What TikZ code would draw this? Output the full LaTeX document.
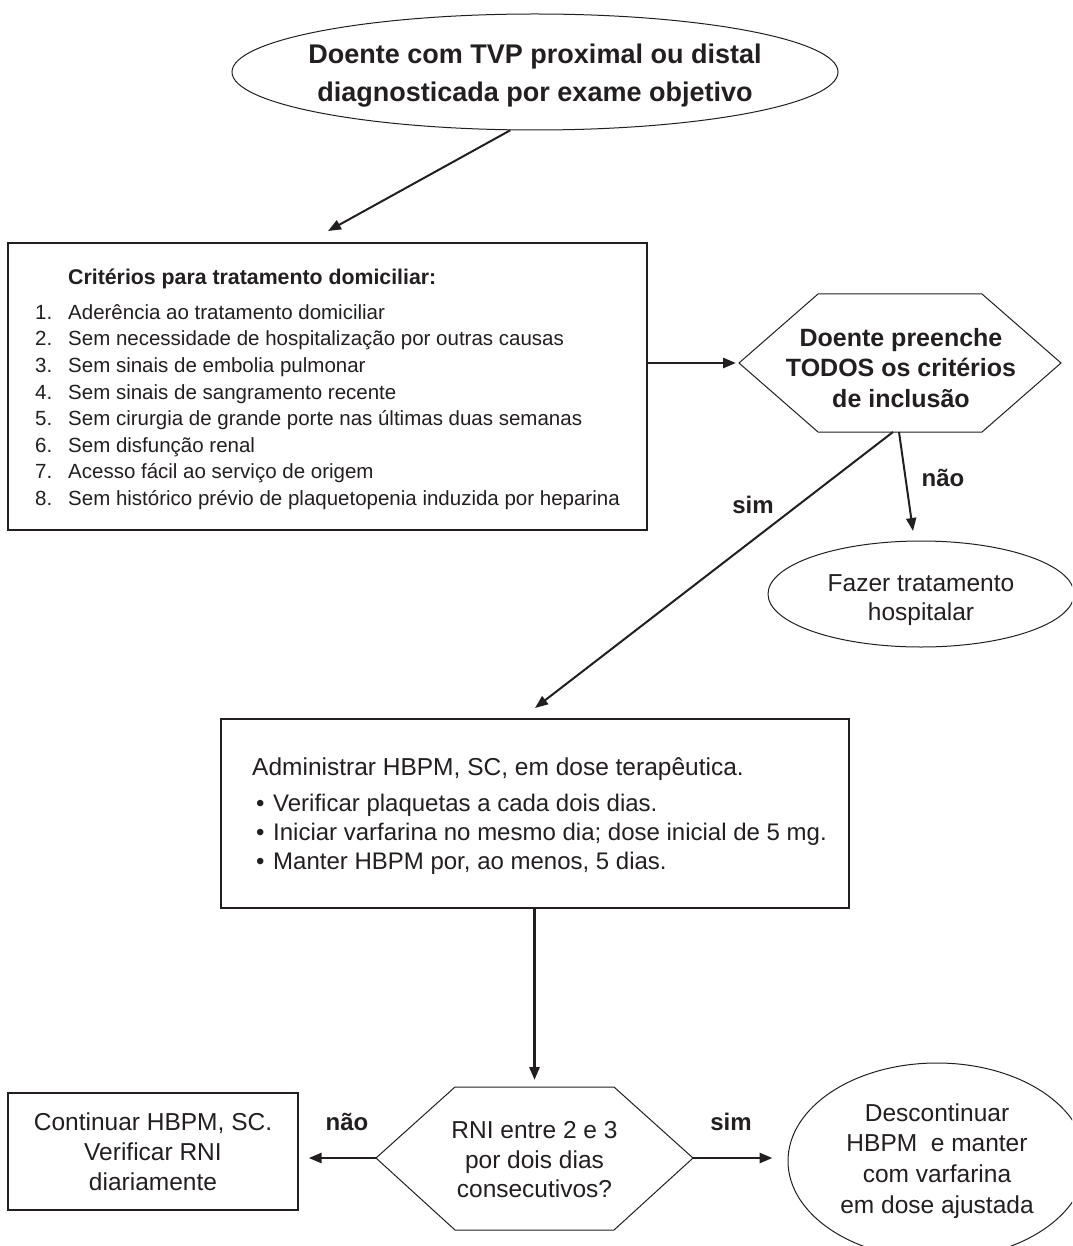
\documentclass[tikz,border=0pt]{standalone}
\usepackage{fontspec}
\setmainfont{Liberation Sans}
\usetikzlibrary{arrows.meta,shapes.geometric,calc}
\definecolor{ink}{RGB}{35,31,32}
\begin{document}
\begin{tikzpicture}[x=1pt,y=-1pt,
  txt/.style={text=ink, inner sep=0pt},
  fbold/.style={font=\fontsize{24}{30.5}\selectfont\bfseries},
  fcrit/.style={font=\fontsize{20.5}{26.6}\selectfont},
  bord/.style={draw=ink, line width=1.3pt},
  thin/.style={draw=ink, line width=1pt},
  arr/.style={-{Triangle[length=13pt,width=10pt]}, line width=2pt, draw=ink},
  harr/.style={arr, line width=2.8pt}]
\useasboundingbox (0,0) rectangle (1072,1246);
\clip (0,0) rectangle (1072,1246);
\fill[white] (0,0) rectangle (1072,1246);

% start ellipse
\node[ellipse, thin, minimum width=606pt, minimum height=116pt, inner sep=0pt] (start) at (535,72) {};
\node[txt, align=center, font=\fontsize{27}{38}\selectfont\bfseries] (startT) at (535,76)
  {Doente com TVP proximal ou distal\\diagnosticada por exame objetivo};

% criteria box
\node[rectangle, bord, minimum width=639pt, minimum height=287pt, inner sep=0pt] (crit) at (327.5,386.5) {};
\node[txt, anchor=base west, font=\fontsize{21.3}{26}\selectfont\bfseries] (critT) at (68,284.6) {Critérios para tratamento domiciliar:};
\foreach \i/\t in {1/Aderência ao tratamento domiciliar,
  2/Sem necessidade de hospitalização por outras causas,
  3/Sem sinais de embolia pulmonar,
  4/Sem sinais de sangramento recente,
  5/Sem cirurgia de grande porte nas últimas duas semanas,
  6/Sem disfunção renal,
  7/Acesso fácil ao serviço de origem,
  8/Sem histórico prévio de plaquetopenia induzida por heparina}{
  \node[txt, anchor=base west, fcrit] (cn\i) at (35,{319.3+26.6*(\i-1)}) {\i.};
  \node[txt, anchor=base west, fcrit] (ci\i) at (68,{319.3+26.6*(\i-1)}) {\t};
}

% decision 1
\coordinate (h1l) at (739,363);
\coordinate (h1tl) at (818,294);
\coordinate (h1tr) at (982,294);
\coordinate (h1r) at (1061,363);
\coordinate (h1br) at (982,432);
\coordinate (h1bl) at (818,432);
\draw[thin] (h1l) -- (h1tl) -- (h1tr) -- (h1r) -- (h1br) -- (h1bl) -- cycle;
\node[txt, align=center, font=\fontsize{25}{30.5}\selectfont\bfseries] (dec1) at (901,368) {Doente preenche\\TODOS os critérios\\de inclusão};
\coordinate (h1nao) at (899,432);
\coordinate (h1sim) at (893,432);

% hospital ellipse
\node[ellipse, thin, minimum width=306pt, minimum height=106pt, inner sep=0pt] (fazer) at (921,594) {};
\node[txt, align=center, font=\fontsize{24.5}{28.5}\selectfont] (fazerT) at (921,600) {Fazer tratamento\\hospitalar};
\coordinate (naoEnd) at (913,531);

% admin box
\node[rectangle, bord, minimum width=628pt, minimum height=189pt, inner sep=0pt] (admin) at (535,813.5) {};
\node[txt, anchor=base west, font=\fontsize{24.5}{29}\selectfont] (adT) at (252,775) {Administrar HBPM, SC, em dose terapêutica.};
\foreach \i/\t in {1/Verificar plaquetas a cada dois dias.,
  2/Iniciar varfarina no mesmo dia; dose inicial de 5 mg.,
  3/{Manter HBPM por, ao menos, 5 dias.}}{
  \node[txt, anchor=base west, font=\fontsize{24}{29}\selectfont] (ab\i) at (256,{811+29.2*(\i-1)}) {•};
  \node[txt, anchor=base west, font=\fontsize{24}{29}\selectfont] (ai\i) at (273,{811+29.2*(\i-1)}) {\t};
}
\coordinate (simEnd) at (535,708);

% decision 2
\coordinate (h2l) at (376,1158);
\coordinate (h2tl) at (455,1087);
\coordinate (h2tr) at (614,1087);
\coordinate (h2r) at (693,1158);
\coordinate (h2br) at (614,1230);
\coordinate (h2bl) at (455,1230);
\coordinate (h2t) at (534.5,1087);
\draw[thin] (h2l) -- (h2tl) -- (h2tr) -- (h2r) -- (h2br) -- (h2bl) -- cycle;
\node[txt, align=center, font=\fontsize{24.5}{29.5}\selectfont] (dec2) at (534.5,1160) {RNI entre 2 e 3\\por dois dias\\consecutivos?};

% continue box
\node[rectangle, bord, minimum width=290pt, minimum height=117pt, inner sep=0pt,
  align=center, text=ink, font=\fontsize{24.5}{30}\selectfont] (cont) at (153,1151.5) {Continuar HBPM, SC.\\Verificar RNI\\diariamente};

% discontinue ellipse
\node[ellipse, thin, minimum width=298pt, minimum height=196pt, inner sep=0pt,
  align=center, text=ink, font=\fontsize{24.5}{30.7}\selectfont] (desc) at (937,1161) {Descontinuar\\HBPM\ \ e manter\\com varfarina\\em dose ajustada};

% connectors
\draw[arr] (start.247) -- (328,231) coordinate (topEnd);
\draw[harr, shorten >=3pt] (crit.east |- h1l) -- (h1l);
\draw[arr] (h1nao) -- (naoEnd);
\draw[arr] (h1sim) -- (simEnd);
\draw[harr, shorten >=7pt] (admin.south -| h2t) -- (h2t);
\draw[harr, shorten >=10pt] (h2l) -- (cont.east |- h2l);
\draw[harr, shorten >=15pt] (h2r) -- (desc.west |- h2r);

% labels
\node[txt, fbold] (lnao1) at (943,478) {não};
\node[txt, fbold] (lsim1) at (753,505) {sim};
\node[txt, fbold] (lnao2) at (347,1122) {não};
\node[txt, fbold] (lsim2) at (731,1122) {sim};
\end{tikzpicture}
\end{document}
